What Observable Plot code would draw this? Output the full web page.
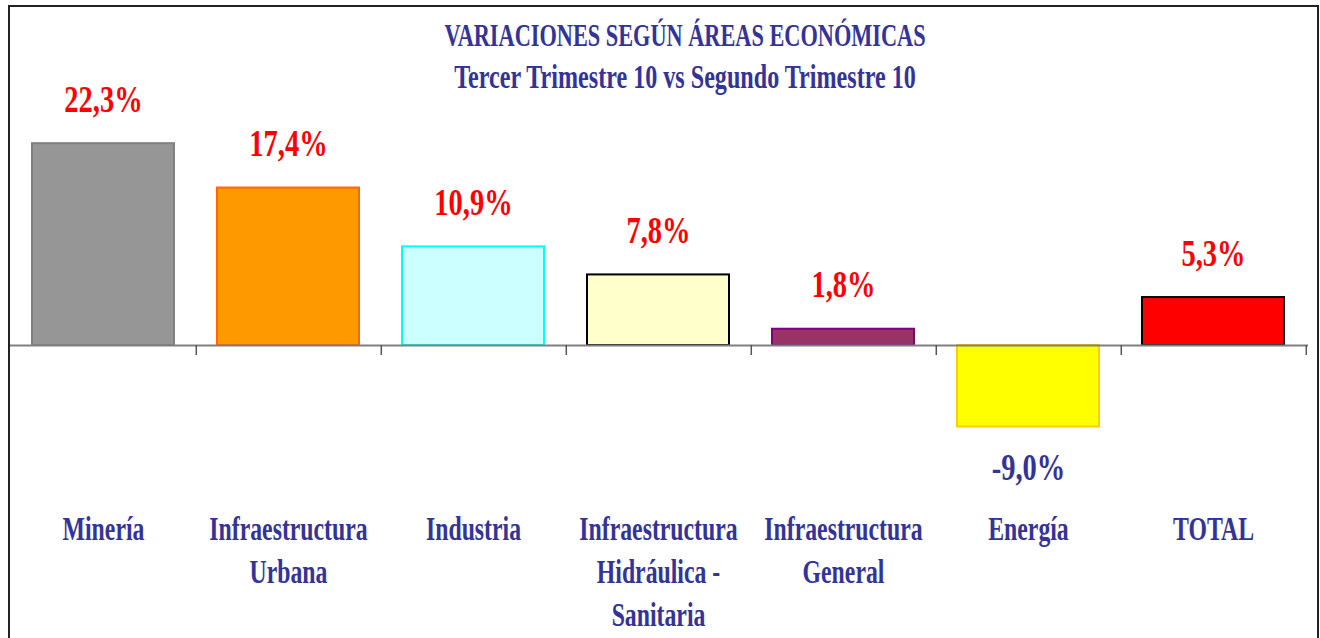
<!DOCTYPE html>
<html><head><meta charset="utf-8">
<script src="https://cdn.jsdelivr.net/npm/d3@7"></script>
<script src="https://cdn.jsdelivr.net/npm/@observablehq/plot@0.6"></script>
<style>
html,body{margin:0;padding:0;background:#fff;}
#wrap{position:relative;width:1320px;height:638px;overflow:hidden;background:#fff;}
#border{position:absolute;left:8px;top:5px;width:1311px;height:700px;box-sizing:border-box;border:2px solid #222;border-bottom:none;pointer-events:none;}
#wrap svg text{font-family:"Liberation Serif","Times New Roman",serif !important;font-weight:bold;}
</style></head><body>
<div id="wrap"><div id="border"></div></div>
<script>
const categories = ["Minería", "Infraestructura Urbana", "Industria", "Infraestructura Hidráulica - Sanitaria", "Infraestructura General", "Energía", "TOTAL"];
const tickLabels = ["Minería", "Infraestructura\nUrbana", "Industria", "Infraestructura\nHidráulica -\nSanitaria", "Infraestructura\nGeneral", "Energía", "TOTAL"];
const values = [22.3, 17.4, 10.9, 7.8, 1.8, -9.0, 5.3];
const valueLabels = ["22,3%", "17,4%", "10,9%", "7,8%", "1,8%", "-9,0%", "5,3%"];
const fills = ["#969696", "#FF9900", "#CCFFFF", "#FFFFCC", "#993366", "#FFFF00", "#FF0000"];
const strokes = ["#808080", "#FF6600", "#00FFFF", "#000000", "#800080", "#FFCC00", "#000000"];
const labelColors = ["#FF0000", "#FF0000", "#FF0000", "#FF0000", "#FF0000", "#333399", "#FF0000"];
const title = "VARIACIONES SEGÚN ÁREAS ECONÓMICAS";
const subtitle = "Tercer Trimestre 10 vs Segundo Trimestre 10";
const yDomain = [-16.57, 38.12];

const data = categories.map((c, i) => ({category: c, value: values[i], label: valueLabels[i], fill: fills[i], stroke: strokes[i], labelColor: labelColors[i]}));
const W = 1320, H = 638, mL = 9, mR = 12, mT = 0, mB = 143;
const step = (W - mL - mR) / categories.length;
const NAVY = "#333399";

const chart = Plot.plot({
  width: W, height: H, marginLeft: mL, marginRight: mR, marginTop: mT, marginBottom: mB,
  style: "font-family: 'Liberation Serif', 'Times New Roman', serif; font-weight: bold; background: transparent;",
  x: {domain: categories, paddingInner: 0.23, paddingOuter: 0.115},
  y: {domain: yDomain, axis: null},
  color: {type: "identity"},
  marks: [
    Plot.barY(data, {x: "category", y: "value", fill: "fill", stroke: "stroke", strokeWidth: 2}),
    Plot.ruleY([0], {stroke: "#808080", strokeWidth: 2}),
    Plot.ruleX(data, {x: "category", dx: step / 2, y1: 0, y2: 0, insetBottom: -10, stroke: "#555", strokeWidth: 1.5}),
    Plot.text(data.filter(d => d.value >= 0), {x: "category", y: "value", text: "label", fill: "labelColor", fontSize: 38, lineAnchor: "top", dy: -59, className: "vlab"}),
    Plot.text(data.filter(d => d.value < 0), {x: "category", y: "value", text: "label", fill: "labelColor", fontSize: 38, lineAnchor: "top", dy: 26, className: "vlab"}),
    Plot.axisX({anchor: "bottom", tickSize: 0, tickPadding: 14, tickFormat: d => tickLabels[categories.indexOf(d)], fontSize: 33, lineHeight: 1.3, color: NAVY, label: null}),
    Plot.text([title], {text: d => d, frameAnchor: "top", dx: 26, dy: 23, lineAnchor: "top", fontSize: 31, fill: NAVY}),
    Plot.text([subtitle], {text: d => d, frameAnchor: "top", dx: 26, dy: 64, lineAnchor: "top", fontSize: 33.5, fill: NAVY})
  ]
});

document.getElementById("wrap").appendChild(chart);
chart.querySelectorAll("text").forEach(t => {
  const S = t.closest(".vlab") ? 0.75 : 0.72;
  const b = t.getBBox();
  const cx = b.x + b.width / 2;
  const prev = t.getAttribute("transform") || "";
  t.setAttribute("transform", `${prev} translate(${cx},0) scale(${S},1) translate(${-cx},0)`.trim());
});
</script>
</body></html>
